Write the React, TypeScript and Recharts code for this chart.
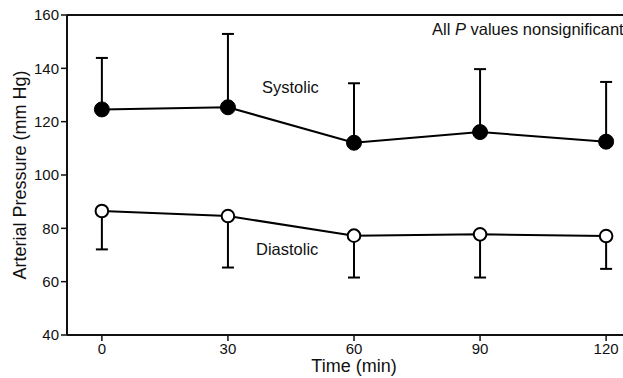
import React from "react";
import { LineChart, Line, XAxis, YAxis, ErrorBar, ReferenceLine } from "recharts";

const times = [0, 30, 60, 90, 120];
const systolic = [124.6, 125.4, 112.1, 116.1, 112.5];
const systolicSD = [19.3, 27.5, 22.3, 23.6, 22.4];
const diastolic = [86.5, 84.6, 77.25, 77.75, 77.1];
const diastolicSD = [14.4, 19.3, 15.7, 16.2, 12.3];
const yTicks = [40, 60, 80, 100, 120, 140, 160];

const data = times.map((t, i) => ({
  t,
  sys: systolic[i],
  sysErr: [0, systolicSD[i]],
  dia: diastolic[i],
  diaErr: [diastolicSD[i], 0],
}));

const FONT = "'Liberation Sans', Arial, Helvetica, sans-serif";

const YLabel = (props: any) => {
  const vb = props.viewBox || { x: 0, y: 15, width: 67, height: 320 };
  const cy = vb.y + vb.height / 2;
  const x = 26;
  return (
    <text
      x={x}
      y={cy}
      transform={`rotate(-90, ${x}, ${cy})`}
      textAnchor="middle"
      fontSize={18}
      fontFamily={FONT}
      fill="#111"
    >
      Arterial Pressure (mm Hg)
    </text>
  );
};

const SysDot = (props: any) => {
  const { cx, cy } = props;
  return <circle cx={cx} cy={cy} r={7.5} fill="#000" stroke="#000" strokeWidth={1} />;
};
const DiaDot = (props: any) => {
  const { cx, cy } = props;
  return <circle cx={cx} cy={cy} r={6.3} fill="#fff" stroke="#000" strokeWidth={2} />;
};

export default function App() {
  return (
    <div
      style={{
        position: "fixed",
        left: 0,
        top: 0,
        width: 623,
        height: 378,
        overflow: "hidden",
        background: "#fff",
      }}
    >
      <LineChart
        width={660}
        height={378}
        data={data}
        margin={{ top: 15, right: 19, left: 0, bottom: 0 }}
        style={{ fontFamily: FONT }}
      >
        <XAxis
          dataKey="t"
          type="number"
          domain={[-8.3, 128.3]}
          ticks={times}
          allowDataOverflow
          height={43}
          tickSize={6}
          tickMargin={2}
          axisLine={{ stroke: "#111", strokeWidth: 2 }}
          tickLine={{ stroke: "#111", strokeWidth: 1.5 }}
          tick={{ fill: "#111", fontSize: 15, fontFamily: FONT }}
          label={{
            value: "Time (min)",
            position: "insideBottom",
            offset: 6,
            fontSize: 18,
            fill: "#111",
            fontFamily: FONT,
          }}
        />
        <YAxis
          domain={[40, 160]}
          ticks={yTicks}
          width={67}
          tickSize={6}
          tickMargin={2}
          axisLine={{ stroke: "#111", strokeWidth: 2 }}
          tickLine={{ stroke: "#111", strokeWidth: 1.5 }}
          tick={{ fill: "#111", fontSize: 15, fontFamily: FONT }}
          label={<YLabel />}
        />
        <ReferenceLine y={160} stroke="#111" strokeWidth={2} />
        <Line
          dataKey="sys"
          stroke="#000"
          strokeWidth={2}
          isAnimationActive={false}
          dot={<SysDot />}
          activeDot={false}
        >
          <ErrorBar dataKey="sysErr" width={6} stroke="#000" strokeWidth={2} direction="y" />
        </Line>
        <Line
          dataKey="dia"
          stroke="#000"
          strokeWidth={2}
          isAnimationActive={false}
          dot={<DiaDot />}
          activeDot={false}
        >
          <ErrorBar dataKey="diaErr" width={6} stroke="#000" strokeWidth={2} direction="y" />
        </Line>
      </LineChart>
      <svg
        width={623}
        height={378}
        style={{ position: "absolute", left: 0, top: 0, pointerEvents: "none" }}
      >
        <text x={432} y={35} fontSize={16.5} fontFamily={FONT} fill="#111">
          All <tspan fontStyle="italic">P</tspan> values nonsignificant
        </text>
        <text x={262} y={93} fontSize={16.5} fontFamily={FONT} fill="#111">
          Systolic
        </text>
        <text x={256} y={255} fontSize={16.5} fontFamily={FONT} fill="#111">
          Diastolic
        </text>
      </svg>
    </div>
  );
}
